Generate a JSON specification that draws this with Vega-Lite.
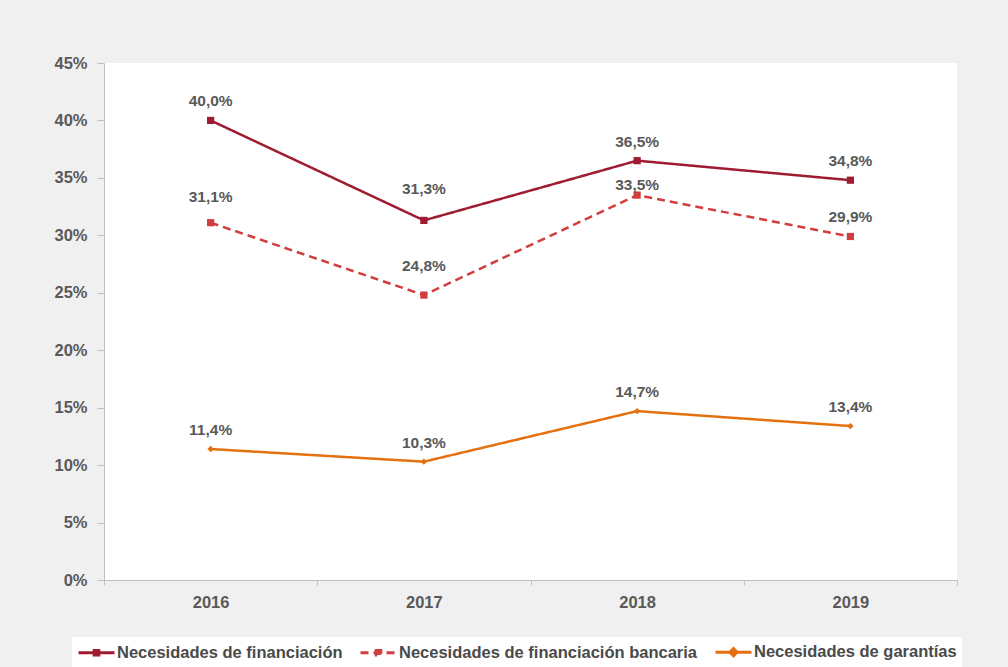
{
  "$schema": "https://vega.github.io/schema/vega-lite/v6.json",
  "width": 853,
  "height": 517,
  "autosize": "none",
  "padding": {"left": 104, "top": 63, "right": 51, "bottom": 87},
  "background": "#f0f0f0",
  "config": {
    "locale": {"number": {"decimal": ",", "thousands": ".", "grouping": [3], "currency": ["", " €"]}},
    "view": {"fill": "white", "stroke": null},
    "font": "Liberation Sans"
  },
  "data": {
    "values": [
      {"anio": "2016", "serie": "Necesidades de financiación", "valor": 0.400},
      {"anio": "2017", "serie": "Necesidades de financiación", "valor": 0.313},
      {"anio": "2018", "serie": "Necesidades de financiación", "valor": 0.365},
      {"anio": "2019", "serie": "Necesidades de financiación", "valor": 0.348},
      {"anio": "2016", "serie": "Necesidades de financiación bancaria", "valor": 0.311},
      {"anio": "2017", "serie": "Necesidades de financiación bancaria", "valor": 0.248},
      {"anio": "2018", "serie": "Necesidades de financiación bancaria", "valor": 0.335},
      {"anio": "2019", "serie": "Necesidades de financiación bancaria", "valor": 0.299},
      {"anio": "2016", "serie": "Necesidades de garantías", "valor": 0.114},
      {"anio": "2017", "serie": "Necesidades de garantías", "valor": 0.103},
      {"anio": "2018", "serie": "Necesidades de garantías", "valor": 0.147},
      {"anio": "2019", "serie": "Necesidades de garantías", "valor": 0.134}
    ]
  },
  "encoding": {
    "x": {
      "field": "anio", "type": "ordinal",
      "scale": {"type": "band", "paddingInner": 0, "paddingOuter": 0},
      "axis": {
        "title": null, "labelAngle": 0, "tickBand": "extent",
        "domainColor": "#bfbfbf", "tickColor": "#bfbfbf", "tickSize": 5,
        "labelPadding": 9, "labelFontSize": 16.5, "labelFontWeight": "bold", "labelColor": "#595959"
      }
    },
    "y": {
      "field": "valor", "type": "quantitative",
      "scale": {"domain": [0, 0.45], "nice": false},
      "axis": {
        "title": null, "format": ".0%", "values": [0, 0.05, 0.1, 0.15, 0.2, 0.25, 0.3, 0.35, 0.4, 0.45],
        "grid": false, "domainColor": "#bfbfbf", "tickColor": "#bfbfbf", "tickSize": 7,
        "labelPadding": 10, "labelFontSize": 16.5, "labelFontWeight": "bold", "labelColor": "#595959"
      }
    }
  },
  "layer": [
    {
      "mark": {"type": "line", "strokeWidth": 2.5},
      "encoding": {
        "color": {
          "field": "serie", "type": "nominal",
          "scale": {"domain": ["Necesidades de financiación", "Necesidades de financiación bancaria", "Necesidades de garantías"], "range": ["#9e1b32", "#d23d3d", "#e4700f"]},
          "legend": {
            "title": null, "orient": "none", "legendX": -32, "legendY": 574, "direction": "horizontal",
            "fillColor": "white", "padding": 5, "symbolSize": 289, "symbolStrokeWidth": 3,
            "labelFontSize": 16.5, "labelFontWeight": "bold", "labelColor": "#4a4a4a", "labelLimit": 400,
            "columnPadding": 11, "labelOffset": 20,
            "encode": {
              "symbols": {
                "update": {
                  "shape": {"signal": "datum.value === 'Necesidades de garantías' ? 'M-1,0H3.235M1.118,-0.424L1.542,0L1.118,0.424L0.694,0Z' : 'M-1,0H3.235M0.842,-0.276H1.394V0.276H0.842Z'"},
                  "fill": {"scale": "color", "field": "value"},
                  "stroke": {"scale": "color", "field": "value"},
                  "strokeWidth": {"value": 3},
                  "size": {"value": 289},
                  "opacity": {"value": 1}
                }
              }
            }
          }
        },
        "strokeDash": {
          "field": "serie", "type": "nominal",
          "scale": {"domain": ["Necesidades de financiación", "Necesidades de financiación bancaria", "Necesidades de garantías"], "range": [[1, 0], [8, 5], [1, 0]]}
        }
      }
    },
    {
      "transform": [{"filter": "datum.serie != 'Necesidades de garantías'"}],
      "mark": {"type": "point", "filled": true, "opacity": 1, "shape": "square", "size": 52},
      "encoding": {
        "fill": {
          "field": "serie", "type": "nominal",
          "scale": {"domain": ["Necesidades de financiación", "Necesidades de financiación bancaria", "Necesidades de garantías"], "range": ["#9e1b32", "#d23d3d", "#e4700f"]},
          "legend": null
        }
      }
    },
    {
      "transform": [{"filter": "datum.serie == 'Necesidades de garantías'"}],
      "mark": {"type": "point", "filled": true, "opacity": 1, "shape": "diamond", "size": 40},
      "encoding": {
        "fill": {
          "field": "serie", "type": "nominal",
          "scale": {"domain": ["Necesidades de financiación", "Necesidades de financiación bancaria", "Necesidades de garantías"], "range": ["#9e1b32", "#d23d3d", "#e4700f"]},
          "legend": null
        }
      }
    },
    {
      "transform": [{"filter": "!((datum.anio == '2016' && datum.serie == 'Necesidades de financiación bancaria') || (datum.anio == '2017' && datum.serie != 'Necesidades de garantías') || (datum.anio == '2018' && datum.serie == 'Necesidades de financiación bancaria'))"}],
      "mark": {"type": "text", "dy": -19, "fontSize": 15.5, "fontWeight": "bold", "color": "#595959"},
      "encoding": {"text": {"field": "valor", "type": "quantitative", "format": ".1%"}}
    },
    {
      "transform": [{"filter": "datum.anio == '2016' && datum.serie == 'Necesidades de financiación bancaria'"}],
      "mark": {"type": "text", "dy": -26, "fontSize": 15.5, "fontWeight": "bold", "color": "#595959"},
      "encoding": {"text": {"field": "valor", "type": "quantitative", "format": ".1%"}}
    },
    {
      "transform": [{"filter": "datum.anio == '2017' && datum.serie == 'Necesidades de financiación'"}],
      "mark": {"type": "text", "dy": -31, "fontSize": 15.5, "fontWeight": "bold", "color": "#595959"},
      "encoding": {"text": {"field": "valor", "type": "quantitative", "format": ".1%"}}
    },
    {
      "transform": [{"filter": "datum.anio == '2017' && datum.serie == 'Necesidades de financiación bancaria'"}],
      "mark": {"type": "text", "dy": -29, "fontSize": 15.5, "fontWeight": "bold", "color": "#595959"},
      "encoding": {"text": {"field": "valor", "type": "quantitative", "format": ".1%"}}
    },
    {
      "transform": [{"filter": "datum.anio == '2018' && datum.serie == 'Necesidades de financiación bancaria'"}],
      "mark": {"type": "text", "dy": -10, "fontSize": 15.5, "fontWeight": "bold", "color": "#595959"},
      "encoding": {"text": {"field": "valor", "type": "quantitative", "format": ".1%"}}
    }
  ]
}
